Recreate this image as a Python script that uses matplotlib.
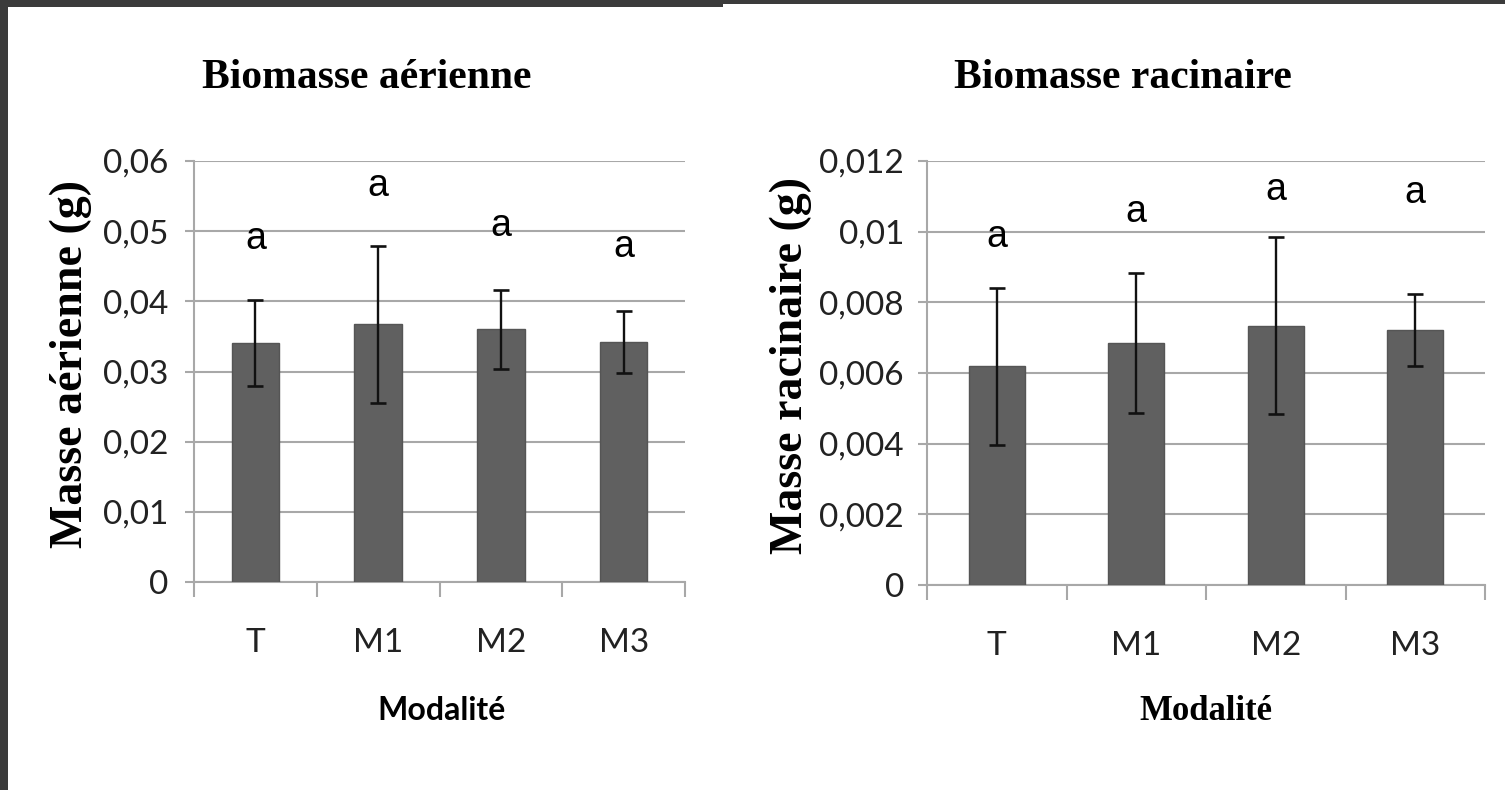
import matplotlib
matplotlib.use("Agg")
import matplotlib.pyplot as plt
from matplotlib.patches import Rectangle
from matplotlib.ticker import FixedLocator, FuncFormatter, MultipleLocator
import numpy as np

# ---------------- data ----------------
categories = ["T", "M1", "M2", "M3"]

aer_mean = [0.0341, 0.0367, 0.0360, 0.0342]
aer_err = [0.0061, 0.0112, 0.0056, 0.0044]
aer_letters = ["a", "a", "a", "a"]
aer_letter_y = [0.0489, 0.0564, 0.0507, 0.0477]

rac_mean = [0.00619, 0.00686, 0.00734, 0.00723]
rac_err = [0.00222, 0.00198, 0.00250, 0.00102]
rac_letters = ["a", "a", "a", "a"]
rac_letter_y = [0.00985, 0.01055, 0.01117, 0.01109]

titles = ["Biomasse aérienne", "Biomasse racinaire"]
ylabels = ["Masse aérienne (g)", "Masse racinaire (g)"]
xlabel = "Modalité"

# ---------------- style ----------------
W, H = 1505, 790
DPI = 100
fig = plt.figure(figsize=(W / DPI, H / DPI), dpi=DPI)
fig.patch.set_facecolor("white")

BAR = "#606060"
GRID = "#a8a8a8"
SANS = ["Lato", "DejaVu Sans"]
SERIF = ["Liberation Serif", "DejaVu Serif"]


def px_box(x0, y0, x1, y1):
    return [x0 / W, 1 - y1 / H, (x1 - x0) / W, (y1 - y0) / H]


def fmt(v, pos):
    s = f"{v:.6g}"
    if abs(v) < 1e-12:
        s = "0"
    return s.replace(".", ",")


def make_panel(box, means, errs, letters, letter_y, ymax, ystep, width,
               title, title_xy, ylabel, ylabel_x, xlabel_font, xlabel_xy, ypad):
    ax = fig.add_axes(px_box(*box))
    x = np.arange(len(categories))
    ax.bar(x, means, width=width, color=BAR, edgecolor="#555555", linewidth=1.0, zorder=3)
    ax.errorbar(x, means, yerr=errs, fmt="none", ecolor="#111111", elinewidth=1.7,
                capsize=6, capthick=1.9, zorder=4)
    for xi, lt, ly in zip(x, letters, letter_y):
        ax.text(xi, ly, lt, ha="center", va="center", fontsize=27,
                family=["Liberation Sans", "DejaVu Sans"], color="black", zorder=5)

    ax.set_xlim(-0.5, len(categories) - 0.5)
    ax.set_ylim(0, ymax)
    ax.yaxis.set_major_locator(MultipleLocator(ystep))
    ax.yaxis.set_major_formatter(FuncFormatter(fmt))
    ax.grid(axis="y", color=GRID, linewidth=1.5, zorder=0)
    ax.set_axisbelow(True)

    for s in ["top", "right"]:
        ax.spines[s].set_visible(False)
    for s in ["left", "bottom"]:
        ax.spines[s].set_color(GRID)
        ax.spines[s].set_linewidth(1.5)

    ax.set_xticks(x)
    ax.set_xticklabels(categories)
    ax.xaxis.set_minor_locator(FixedLocator(np.arange(-0.5, len(categories), 1.0)))
    ax.tick_params(axis="x", which="major", length=0, pad=33, labelsize=24,
                   labelcolor="#222222")
    ax.tick_params(axis="x", which="minor", length=11, width=1.5, color=GRID,
                   direction="out")
    ax.tick_params(axis="y", length=6.5, width=1.5, color=GRID, pad=ypad,
                   labelsize=24, labelcolor="#222222")
    for lab in ax.get_xticklabels() + ax.get_yticklabels():
        lab.set_family(SANS)

    ax.set_ylabel(ylabel, fontsize=33, fontweight="bold", family=SERIF, color="black")
    ax.yaxis.set_label_coords(ylabel_x, 0.517)

    fig.text(title_xy[0] / W, 1 - title_xy[1] / H, title, ha="center", va="center",
             fontsize=30, fontweight="bold", family=SERIF, color="black")
    fig.text(xlabel_xy[0] / W, 1 - xlabel_xy[1] / H, xlabel, ha="center", va="center",
             fontsize=xlabel_font[1], fontweight="bold", family=xlabel_font[0],
             color="black")
    return ax


make_panel((194, 161, 685, 582), aer_mean, aer_err, aer_letters, aer_letter_y,
           0.06, 0.01, 0.385, titles[0], (367, 78), ylabels[0], -0.208,
           (SANS, 23), (441, 711), 12)
make_panel((927, 161, 1485, 585), rac_mean, rac_err, rac_letters, rac_letter_y,
           0.012, 0.002, 0.40, titles[1], (1123, 78), ylabels[1], -0.206,
           (SERIF, 25), (1206, 711), 10)

# dark frame edges of the original screenshot
frame = "#3b3b3b"
fig.add_artist(Rectangle((0, 0), 8 / W, 1, transform=fig.transFigure,
                         facecolor=frame, edgecolor="none", zorder=10))
fig.add_artist(Rectangle((0, 1 - 7 / H), 723 / W, 7 / H, transform=fig.transFigure,
                         facecolor=frame, edgecolor="none", zorder=10))
fig.add_artist(Rectangle((723 / W, 1 - 4 / H), 1 - 723 / W, 4 / H,
                         transform=fig.transFigure, facecolor=frame,
                         edgecolor="none", zorder=10))

fig.savefig("out.png", dpi=DPI, facecolor=fig.get_facecolor())
